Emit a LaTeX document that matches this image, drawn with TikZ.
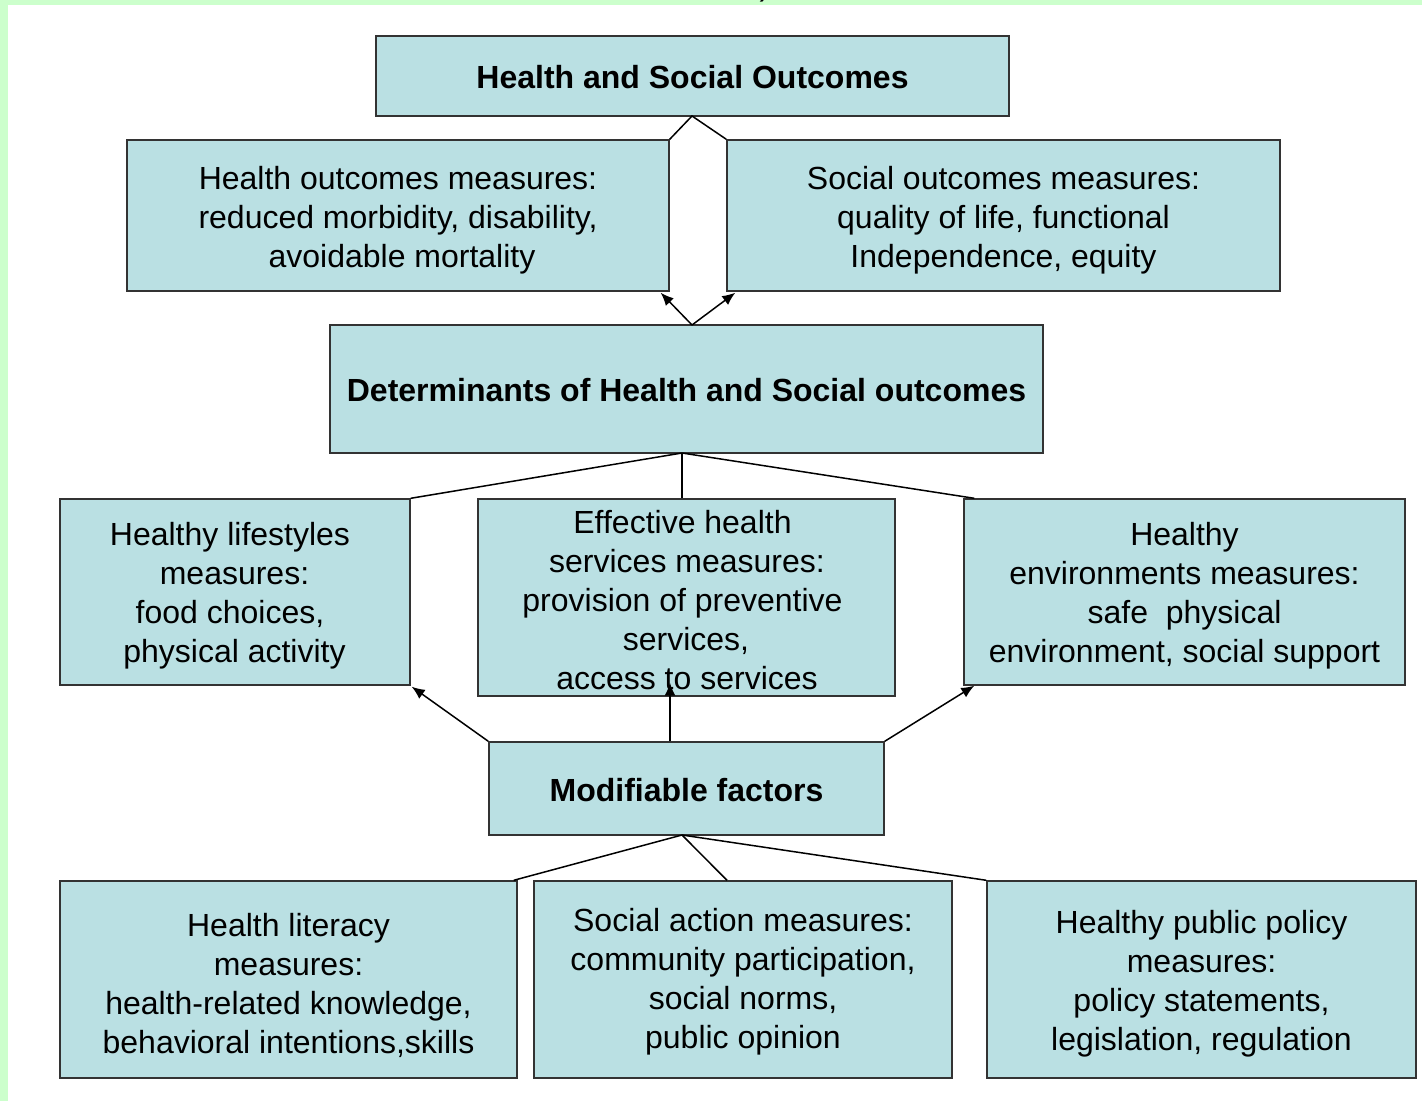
\documentclass[tikz,border=0pt]{standalone}
\usepackage{fontspec}
\setmainfont{Liberation Sans}
\usetikzlibrary{fit,calc,arrows.meta}
\definecolor{boxfill}{HTML}{BAE0E3}
\definecolor{slidegreen}{HTML}{CCFFCC}
% leading / trailing nudge for single lines inside centred blocks
\newcommand{\lpad}[1]{\hspace*{#1pt}}
\begin{document}
\begin{tikzpicture}[x=0.5pt,y=-0.5pt,
  box/.style={draw=black!80, line width=0.7pt, fill=boxfill, inner sep=0pt},
  txt/.style={inner sep=0pt, align=center, font=\fontsize{16}{19.5}\selectfont},
  boldtxt/.style={txt, font=\fontsize{16}{19.5}\selectfont\bfseries},
  link/.style={line width=0.75pt, black},
  arr/.style={link, -{Latex[length=6.5pt,width=5.5pt]}}]

\useasboundingbox (0,0) rectangle (1422,1101);

% slide frame
\fill[slidegreen] (0,0) rectangle (1422,5);
\fill[slidegreen] (0,0) rectangle (8,1101);
\begin{scope}
  \clip (0,0) rectangle (1422,6);
  \node[font=\fontsize{16}{19.5}\selectfont, inner sep=0pt, anchor=base] (paren) at (765,-4) {)};
\end{scope}

% boxes
\node[box, fit={(376,36) (1009,116)}] (T) {};
\node[box, fit={(127,140) (669,291)}] (HO) {};
\node[box, fit={(727,140) (1280,291)}] (SO) {};
\node[box, fit={(330,325) (1043,453)}] (D) {};
\node[box, fit={(60,499) (410,685)}] (L) {};
\node[box, fit={(478,499) (895,696)}] (S) {};
\node[box, fit={(964,499) (1405,685)}] (E) {};
\node[box, fit={(489,742) (884,835)}] (M) {};
\node[box, fit={(60,881) (517,1078)}] (HL) {};
\node[box, fit={(534,881) (952,1078)}] (SA) {};
\node[box, fit={(987,881) (1416,1078)}] (P) {};

% box texts
\node[boldtxt] (tT) at ($(T.center)+(0,1)$) {Health and Social Outcomes};
\node[txt] (tHO) at ($(HO.center)+(0,4.5)$)
  {Health outcomes measures:\\reduced morbidity, disability,\\\lpad{4}avoidable mortality};
\node[txt] (tSO) at ($(SO.center)+(0,4.5)$)
  {Social outcomes measures:\\quality of life, functional\\Independence, equity};
\node[boldtxt] (tD) at ($(D.center)+(0,1)$) {Determinants of Health and Social outcomes};
\node[txt] (tL) at ($(L.center)+(-5,4)$)
  {Healthy lifestyles\\\lpad{4.5}measures:\\food choices,\\\lpad{4.5}physical activity};
\node[txt] (tS) at ($(S.center)+(-4,2.5)$)
  {Effective health\\\lpad{4.5}services measures:\\provision of preventive\\\lpad{3.5}services,\\\lpad{4.5}access to services};
\node[txt] (tE) at ($(E.center)+(0,4)$)
  {Healthy\\environments measures:\\safe\ \ physical\lpad{4.5}\\environment, social support};
\node[boldtxt] (tM) at ($(M.center)+(0,1.5)$) {Modifiable factors};
\node[txt] (tHL) at ($(HL.center)+(0,6)$)
  {Health literacy\\measures:\\health-related knowledge,\\behavioral intentions,skills};
\node[txt] (tSA) at ($(SA.center)+(0,2)$)
  {Social action measures:\\community participation,\\social norms,\\public opinion};
\node[txt] (tP) at ($(P.center)+(0,4.5)$)
  {Healthy public policy\\measures:\\policy statements,\\legislation, regulation};

% junction points
\coordinate (tj) at (692,116);
\coordinate (dj) at (692,325);
\coordinate (db) at (682,453);
\coordinate (mb) at (682,835);

% outcomes links
\draw[link] (HO.north east) -- (tj) -- (SO.north west);
\draw[arr] (dj) -- ($(HO.south east)+(-9,1)$);
\draw[arr] (dj) -- ($(SO.south west)+(9,1)$);

% determinants links
\draw[link] (db) -- (L.north east);
\draw[link] (db) -- (db |- S.north);
\draw[link] (db) -- ($(E.north west)+(11,0)$);

% modifiable factors arrows
\draw[arr] (M.north west) -- ($(L.south east)+(1,1)$);
\draw[arr] ($(M.north)+(-16.5,0)$) -- ($(S.south)+(-16.5,-14)$);
\draw[arr] (M.north east) -- ($(E.south west)+(11,0)$);

% modifiable factors links
\draw[link] (mb) -- ($(HL.north east)+(-4,0)$);
\draw[link] (mb) -- ($(SA.north)+(-16,0)$);
\draw[link] (mb) -- (P.north west);
\end{tikzpicture}
\end{document}
